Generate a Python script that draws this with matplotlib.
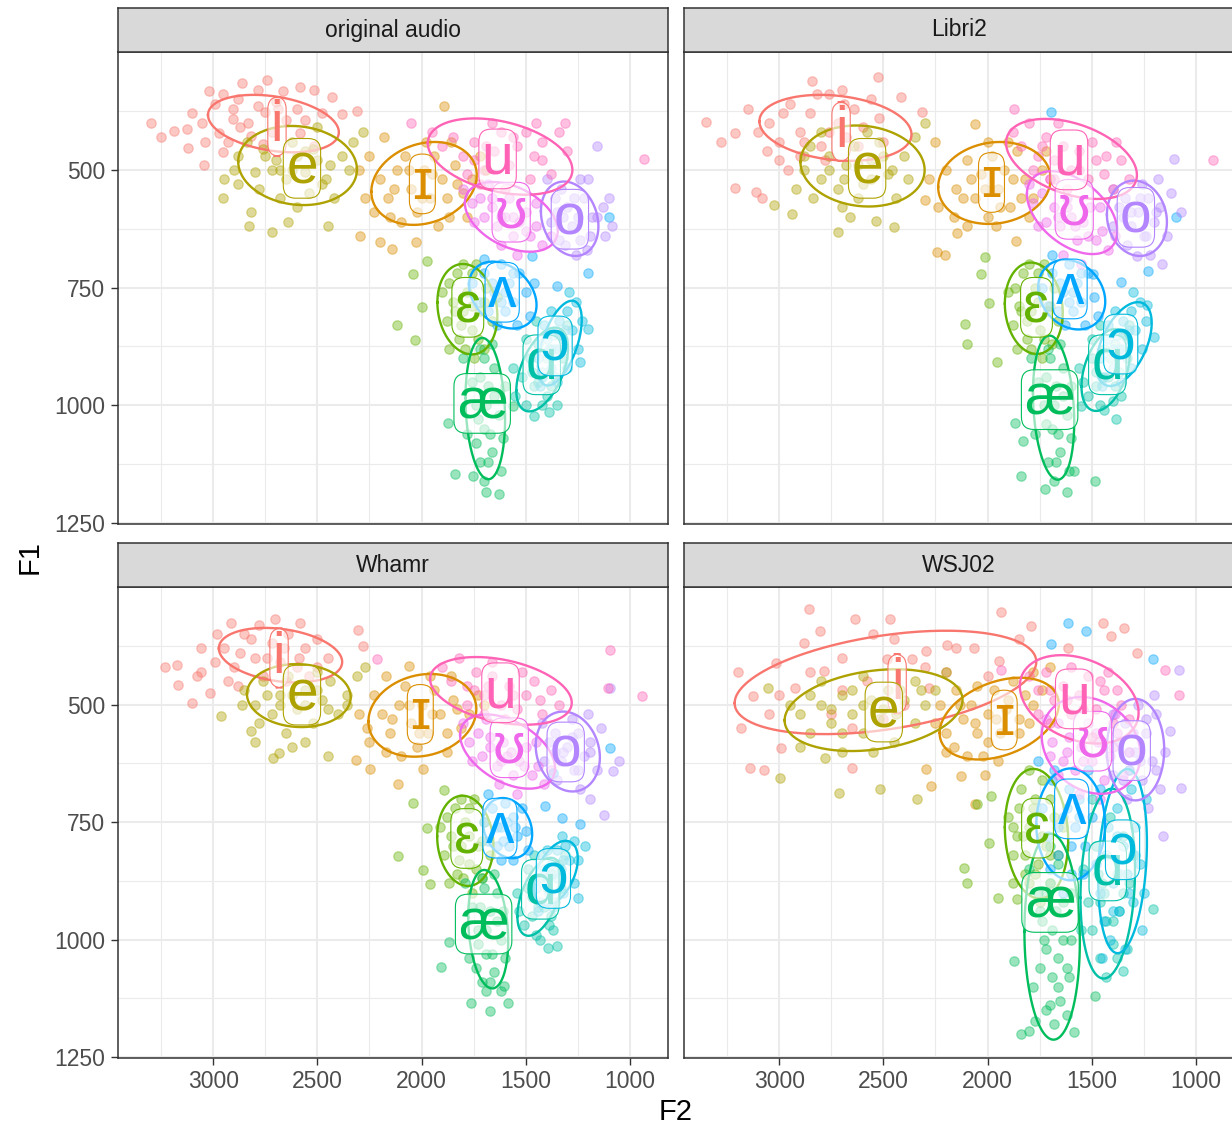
import numpy as np
import matplotlib
matplotlib.use("Agg")
import matplotlib.pyplot as plt

plt.rcParams['font.family'] = ['Liberation Sans', 'DejaVu Sans']

# ---------------- data ----------------
panels = ["original audio", "Libri2", "Whamr", "WSJ02"]
vowels = ['i', 'ɪ', 'e', 'ɛ', 'æ', 'ɑ', 'ɔ', 'ʌ', 'o', 'ʊ', 'u']
vowel_colors = ["#F8766D", "#DB8E00", "#AEA200", "#64B200", "#00BD5C", "#00C1A7",
                "#00BADE", "#00A6FF", "#B385FF", "#EF67EB", "#FF63B6"]
f2_ticks = [3000, 2500, 2000, 1500, 1000]
f1_ticks = [500, 750, 1000, 1250]

# ellipses: (F2 centre, F1 centre, half width F2, half height F1, correlation)
ell_orig = {
    'i': (2711, 402, 314, 61, -0.3), 'e': (2595, 491, 285, 84, -0.1),
    'ɪ': (1988, 529, 253, 88, 0.2), 'u': (1623, 472, 347, 81, -0.35),
    'ʊ': (1569, 600, 223, 74, -0.4), 'o': (1289, 604, 138, 79, -0.2),
    'ɛ': (1780, 796, 144, 96, -0.15), 'ʌ': (1610, 766, 162, 71, -0.3),
    'æ': (1694, 1007, 95, 150, -0.15), 'ɑ': (1421, 924, 124, 89, 0.5),
    'ɔ': (1336, 868, 105, 90, 0.55)}
ell_libri = {
    'i': (2730, 411, 365, 70, -0.2), 'e': (2600, 492, 298, 86, -0.1),
    'ɪ': (1967, 528, 270, 87, 0.1), 'u': (1597, 477, 314, 85, -0.4),
    'ʊ': (1594, 591, 217, 88, -0.45), 'o': (1283, 603, 144, 80, -0.1),
    'ɛ': (1778, 794, 139, 97, -0.1), 'ʌ': (1596, 765, 161, 74, -0.2),
    'æ': (1683, 1005, 99, 153, -0.2), 'ɑ': (1433, 925, 116, 87, 0.4),
    'ɔ': (1345, 870, 133, 89, 0.5)}
ell_whamr = {
    'i': (2677, 395, 296, 58, -0.25), 'e': (2589, 481, 249, 67, -0.05),
    'ɪ': (1996, 523, 259, 88, 0.15), 'u': (1619, 471, 340, 72, -0.35),
    'ʊ': (1587, 600, 228, 79, -0.45), 'o': (1298, 600, 154, 85, -0.15),
    'ɛ': (1790, 790, 135, 96, -0.1), 'ʌ': (1587, 763, 118, 64, -0.2),
    'æ': (1680, 978, 96, 126, -0.2), 'ɑ': (1433, 909, 107, 83, 0.5),
    'ɔ': (1356, 859, 106, 69, 0.45)}
ell_wsj = {
    'i': (2490, 453, 724, 110, 0.4), 'e': (2547, 512, 427, 87, 0.25),
    'ɪ': (1944, 530, 286, 87, 0.35), 'u': (1560, 489, 285, 94, -0.3),
    'ʊ': (1503, 587, 237, 103, -0.2), 'o': (1290, 596, 138, 108, 0.0),
    'ɛ': (1765, 775, 152, 138, -0.1), 'ʌ': (1601, 755, 165, 119, 0.0),
    'æ': (1690, 994, 133, 219, -0.05), 'ɑ': (1423, 881, 131, 202, 0.15),
    'ɔ': (1352, 833, 117, 196, 0.2)}

# label positions (F2, F1)
lab_orig = {'i': (2694, 408), 'e': (2574, 497), 'ɪ': (1996, 530), 'u': (1635, 477),
            'ʊ': (1570, 590), 'o': (1288, 605), 'ɛ': (1778, 792), 'ʌ': (1613, 760),
            'æ': (1709, 996), 'ɑ': (1423, 914), 'ɔ': (1359, 874)}
lab_libri = {'i': (2703, 419), 'e': (2578, 497), 'ɪ': (1981, 527), 'u': (1609, 479),
             'ʊ': (1584, 584), 'o': (1288, 601), 'ɛ': (1765, 792), 'ʌ': (1604, 753),
             'æ': (1702, 988), 'ɑ': (1425, 914), 'ɔ': (1361, 870)}
lab_whamr = {'i': (2684, 401), 'e': (2574, 480), 'ɪ': (2006, 521), 'u': (1621, 475),
             'ʊ': (1579, 592), 'o': (1308, 601), 'ɛ': (1783, 785), 'ʌ': (1624, 763),
             'æ': (1702, 967), 'ɑ': (1430, 893), 'ɔ': (1367, 870)}
lab_wsj = {'i': (2434, 456), 'e': (2498, 516), 'ɪ': (1920, 533), 'u': (1584, 488),
           'ʊ': (1496, 578), 'o': (1308, 598), 'ɛ': (1760, 763), 'ʌ': (1596, 722),
           'æ': (1700, 921), 'ɑ': (1423, 854), 'ɔ': (1352, 809)}

# tokens (F2, F1)
pts_orig = {
    'i': [(3300, 400), (3190, 417), (3120, 453), (3045, 490), (3020, 332), (2955, 340), (2860, 315),
          (2785, 330), (2665, 332), (2585, 325), (2515, 330), (2430, 346), (2380, 382), (2310, 375),
          (2905, 392), (2835, 400), (2750, 378), (2970, 421), (3040, 442), (3055, 400), (2820, 428),
          (2905, 371), (2700, 357), (2585, 421), (2515, 449), (3125, 414), (2955, 463), (2785, 364),
          (2650, 395), (2720, 420), (2880, 350), (2600, 370), (3250, 430), (3100, 380), (2990, 360),
          (2870, 410), (2760, 445), (2690, 370), (2560, 395), (2480, 380), (2740, 310), (2930, 440)],
    'e': [(2720, 633), (2830, 619), (2955, 559), (2450, 619), (2950, 520), (2880, 470), (2800, 505),
          (2760, 455), (2700, 480), (2650, 520), (2600, 470), (2560, 505), (2520, 455), (2480, 530),
          (2440, 490), (2380, 470), (2330, 440), (2280, 420), (2680, 560), (2600, 580), (2540, 550),
          (2780, 540), (2840, 440), (2620, 440), (2500, 410), (2420, 560), (2720, 500), (2900, 500),
          (2750, 470), (2680, 500), (2620, 500), (2560, 460), (2500, 480), (2460, 520), (2350, 500),
          (2640, 610), (2820, 590), (2880, 530)],
    'ɪ': [(2295, 640), (2200, 654), (2140, 668), (2025, 654), (1890, 364), (2250, 470), (2200, 520),
          (2160, 560), (2120, 500), (2080, 470), (2050, 540), (2020, 590), (1990, 500), (1960, 560),
          (1940, 470), (1900, 520), (1870, 600), (1840, 490), (1800, 550), (1760, 520), (1720, 470),
          (2230, 590), (2100, 610), (1980, 440), (1860, 440), (2180, 430), (1780, 600), (1920, 620),
          (2300, 500), (2270, 560), (2130, 540), (2060, 500), (2000, 560), (1950, 510), (1880, 560),
          (1830, 530), (2150, 600), (1690, 500)],
    'u': [(933, 477), (2050, 400), (1950, 420), (1900, 450), (1850, 430), (1800, 470), (1750, 440),
          (1700, 500), (1650, 460), (1620, 420), (1580, 490), (1540, 450), (1500, 420), (1460, 470),
          (1420, 440), (1380, 510), (1340, 420), (1300, 460), (1720, 530), (1600, 540), (1480, 520),
          (1660, 400), (1780, 510), (1310, 400), (1450, 401), (1750, 480), (1690, 450), (1560, 430),
          (1420, 480)],
    'ʊ': [(1800, 540), (1760, 570), (1720, 560), (1700, 600), (1660, 580), (1640, 620), (1600, 600),
          (1580, 560), (1560, 640), (1530, 610), (1500, 590), (1480, 640), (1450, 620), (1420, 660),
          (1380, 640), (1620, 660), (1540, 680), (1680, 530), (1750, 610), (1450, 570), (1660, 560),
          (1560, 600), (1500, 630), (1620, 600)],
    'o': [(1085, 620), (1160, 450), (1205, 670), (1400, 520), (1360, 560), (1330, 540), (1300, 580),
          (1280, 620), (1250, 600), (1220, 560), (1190, 640), (1160, 600), (1130, 580), (1120, 640),
          (1340, 650), (1260, 680), (1200, 520), (1380, 610), (1240, 520), (1310, 660), (1100, 560),
          (1320, 600), (1270, 560), (1240, 650), (1180, 600), (1350, 590)],
    'ɛ': [(2118, 830), (2030, 861), (2040, 722), (2000, 792), (1975, 693), (1900, 760), (1880, 820),
          (1850, 780), (1830, 720), (1820, 860), (1800, 800), (1780, 760), (1760, 840), (1740, 700),
          (1720, 800), (1700, 880), (1690, 750), (1660, 820), (1870, 880), (1800, 700), (1640, 770),
          (1750, 900), (1870, 740), (1810, 830), (1760, 790), (1730, 860), (1790, 880), (1840, 800),
          (1700, 780), (1760, 720)],
    'ʌ': [(1100, 600), (1200, 720), (1350, 746), (1470, 683), (1760, 740), (1720, 780), (1700, 720),
          (1680, 800), (1650, 760), (1620, 700), (1600, 800), (1580, 740), (1560, 780), (1530, 720),
          (1500, 760), (1480, 810), (1460, 740), (1640, 830), (1540, 830), (1700, 690), (1660, 740),
          (1600, 760), (1560, 720), (1620, 780)],
    'æ': [(1875, 1037), (1840, 1146), (1755, 1150), (1690, 1185), (1630, 1189), (1560, 1001),
          (1800, 900), (1760, 950), (1740, 1000), (1720, 880), (1700, 1050), (1680, 960), (1660, 1100),
          (1650, 920), (1630, 1020), (1610, 1070), (1720, 1120), (1780, 1060), (1600, 960), (1700, 1160),
          (1660, 870), (1740, 1080), (1720, 940), (1690, 1000), (1670, 1060), (1700, 900), (1650, 980),
          (1730, 1030), (1680, 1120), (1620, 1140)],
    'ɑ': [(1460, 1022), (1390, 1015), (1550, 980), (1520, 940), (1500, 1000), (1480, 900), (1460, 960),
          (1440, 870), (1420, 930), (1400, 980), (1380, 880), (1360, 940), (1340, 850), (1320, 900),
          (1300, 830), (1500, 860), (1420, 1000), (1560, 920), (1350, 1000), (1450, 820), (1440, 950),
          (1400, 900), (1470, 930), (1380, 960)],
    'ɔ': [(1200, 838), (1240, 909), (1440, 900), (1420, 940), (1400, 860), (1380, 920), (1360, 880),
          (1340, 820), (1320, 860), (1300, 800), (1280, 840), (1260, 780), (1250, 880), (1300, 920),
          (1380, 800), (1430, 960), (1350, 950), (1230, 820), (1290, 760), (1410, 830), (1340, 880),
          (1370, 850), (1310, 840), (1390, 880)]}

pts_libri = {
    'i': [(3350, 399), (3210, 421), (3210, 538), (3110, 548), (3085, 559), (2525, 304), (2845, 311),
          (2415, 346), (2315, 377), (3150, 370), (3050, 400), (3000, 440), (2950, 360), (2900, 420),
          (2850, 380), (2800, 450), (2760, 340), (2720, 400), (2680, 430), (2640, 370), (2600, 410),
          (2560, 350), (2500, 440), (3000, 480), (2900, 470), (2780, 480), (2700, 330), (3060, 460),
          (3280, 440), (3100, 420), (2980, 380), (2880, 440), (2760, 420), (2690, 360), (2620, 450),
          (2520, 390), (2820, 340), (2960, 500)],
    'e': [(3025, 575), (2720, 633), (2535, 608), (2450, 622), (2940, 593), (2880, 500), (2850, 450),
          (2800, 520), (2760, 470), (2720, 540), (2680, 490), (2640, 450), (2600, 530), (2560, 480),
          (2520, 440), (2480, 510), (2440, 560), (2400, 470), (2350, 430), (2300, 400), (2700, 580),
          (2620, 560), (2800, 420), (2580, 420), (2920, 540), (2760, 500), (2690, 520), (2620, 490),
          (2560, 520), (2500, 470), (2460, 500), (2380, 520), (2660, 600), (2840, 560), (2880, 470)],
    'ɪ': [(2245, 674), (2205, 681), (2145, 635), (2300, 564), (2060, 403), (1865, 651), (2200, 500),
          (2150, 540), (2100, 480), (2060, 560), (2030, 510), (2000, 600), (1980, 470), (1950, 540),
          (1920, 500), (1890, 580), (1860, 460), (1820, 520), (1780, 560), (1740, 500), (2250, 440),
          (2100, 620), (1900, 440), (1960, 620), (2000, 440), (1800, 600), (2280, 520), (2240, 580),
          (2120, 560), (2080, 520), (2010, 540), (1940, 580), (1880, 520), (1840, 560), (2160, 600),
          (1720, 460)],
    'u': [(920, 479), (1875, 371), (1385, 442), (1880, 420), (1840, 450), (1800, 400), (1760, 470),
          (1720, 430), (1680, 480), (1640, 450), (1600, 500), (1560, 460), (1520, 520), (1480, 480),
          (1440, 510), (1400, 540), (1360, 480), (1320, 520), (1700, 520), (1620, 540), (1780, 500),
          (1500, 440), (1660, 400), (1740, 450), (1680, 520), (1560, 500), (1430, 470)],
    'ʊ': [(1800, 530), (1780, 570), (1740, 550), (1720, 610), (1680, 580), (1650, 620), (1620, 560),
          (1600, 600), (1570, 650), (1540, 610), (1510, 580), (1480, 650), (1450, 630), (1420, 670),
          (1390, 640), (1640, 680), (1550, 700), (1700, 520), (1760, 620), (1460, 580), (1660, 600),
          (1580, 620), (1520, 640), (1620, 580)],
    'o': [(1072, 590), (1106, 477), (1165, 700), (1283, 683), (1400, 540), (1370, 580), (1340, 560),
          (1310, 620), (1280, 590), (1250, 640), (1230, 560), (1200, 610), (1170, 580), (1140, 640),
          (1120, 550), (1330, 660), (1260, 530), (1400, 620), (1220, 680), (1180, 520), (1310, 590),
          (1270, 560), (1240, 640), (1190, 590), (1350, 600)],
    'ɛ': [(2110, 828), (2100, 870), (2030, 722), (1995, 782), (2010, 686), (1955, 909), (1900, 760),
          (1880, 830), (1850, 790), (1830, 720), (1810, 860), (1790, 800), (1770, 750), (1750, 840),
          (1730, 700), (1710, 800), (1690, 870), (1680, 750), (1660, 820), (1860, 880), (1800, 700),
          (1740, 900), (1870, 750), (1810, 820), (1760, 780), (1730, 860), (1790, 880), (1840, 800),
          (1700, 790), (1760, 720)],
    'ʌ': [(1697, 378), (1232, 715), (1360, 739), (1097, 600), (1494, 722), (1740, 750), (1710, 790),
          (1690, 720), (1660, 800), (1640, 760), (1610, 700), (1590, 800), (1570, 740), (1550, 780),
          (1520, 720), (1490, 770), (1470, 810), (1630, 830), (1530, 830), (1690, 680), (1650, 740),
          (1590, 760), (1550, 720), (1610, 780)],
    'æ': [(1866, 1037), (1832, 1076), (1841, 1150), (1722, 1178), (1621, 1185), (1486, 1160),
          (1587, 1139), (1790, 900), (1760, 950), (1730, 1000), (1710, 880), (1690, 1050), (1670, 960),
          (1650, 1100), (1640, 920), (1620, 1020), (1600, 1070), (1710, 1120), (1770, 1060),
          (1600, 960), (1680, 1160), (1650, 870), (1720, 940), (1680, 1000), (1660, 1060), (1700, 900),
          (1640, 980), (1720, 1040), (1670, 1120), (1610, 1140)],
    'ɑ': [(1384, 1030), (1553, 1001), (1540, 950), (1520, 980), (1500, 900), (1480, 960), (1460, 1000),
          (1440, 880), (1420, 940), (1400, 990), (1390, 870), (1370, 930), (1350, 850), (1330, 900),
          (1320, 830), (1500, 860), (1440, 1010), (1560, 920), (1360, 980), (1460, 830), (1450, 940),
          (1410, 900), (1480, 930), (1390, 960)],
    'ɔ': [(1233, 788), (1199, 856), (1460, 900), (1440, 940), (1420, 860), (1400, 920), (1370, 880),
          (1350, 820), (1330, 860), (1310, 800), (1290, 840), (1270, 780), (1260, 880), (1310, 920),
          (1390, 800), (1450, 960), (1360, 950), (1240, 820), (1300, 760), (1420, 830), (1350, 880),
          (1380, 850), (1320, 840), (1400, 880)]}

pts_whamr = {
    'i': [(3176, 415), (3167, 458), (3100, 496), (3058, 380), (3015, 475), (2914, 327), (2703, 319),
          (2584, 327), (2306, 341), (2280, 376), (2950, 380), (2900, 420), (2850, 350), (2800, 400),
          (2760, 440), (2720, 370), (2680, 410), (2640, 350), (2600, 420), (2560, 380), (2500, 360),
          (2450, 400), (3060, 430), (2880, 460), (2780, 330), (2650, 450), (2540, 440), (2980, 350),
          (3230, 420), (3080, 440), (2990, 410), (2870, 390), (2740, 400), (2660, 380), (2590, 400),
          (2500, 420), (2820, 360), (2930, 450)],
    'e': [(2964, 525), (2820, 557), (2711, 613), (2449, 610), (2686, 603), (2850, 470), (2800, 500),
          (2760, 450), (2720, 520), (2680, 480), (2640, 440), (2600, 510), (2560, 470), (2520, 540),
          (2480, 490), (2440, 450), (2400, 520), (2360, 480), (2310, 440), (2270, 420), (2650, 560),
          (2560, 580), (2780, 540), (2500, 430), (2740, 480), (2680, 500), (2620, 480), (2560, 500),
          (2500, 470), (2450, 510), (2360, 500), (2620, 590), (2800, 580), (2860, 500)],
    'ɪ': [(2313, 617), (2246, 638), (2111, 670), (2060, 419), (1992, 638), (2230, 480), (2190, 520),
          (2150, 560), (2110, 500), (2080, 460), (2050, 540), (2020, 590), (2000, 500), (1970, 560),
          (1940, 470), (1910, 520), (1880, 600), (1850, 490), (1810, 550), (1770, 520), (1730, 480),
          (2250, 580), (2100, 610), (1960, 440), (1860, 440), (2170, 440), (2300, 520), (2260, 550),
          (2140, 530), (2060, 500), (2010, 560), (1950, 520), (1880, 560), (1830, 510), (2170, 600),
          (1700, 500)],
    'u': [(943, 482), (1097, 383), (1106, 465), (2212, 404), (1900, 420), (1860, 450), (1820, 400),
          (1780, 460), (1740, 430), (1700, 480), (1660, 440), (1620, 500), (1580, 460), (1540, 510),
          (1500, 480), (1460, 450), (1420, 520), (1380, 470), (1340, 500), (1700, 520), (1600, 530),
          (1780, 500), (1520, 430), (1660, 410), (1750, 470), (1680, 460), (1560, 480), (1430, 490)],
    'ʊ': [(1800, 540), (1770, 580), (1730, 560), (1710, 610), (1670, 590), (1640, 630), (1610, 580),
          (1590, 610), (1560, 650), (1530, 620), (1500, 590), (1470, 650), (1440, 630), (1410, 670),
          (1380, 640), (1630, 670), (1540, 690), (1690, 530), (1760, 620), (1450, 580), (1670, 570),
          (1570, 600), (1510, 630), (1620, 620)],
    'o': [(1054, 620), (1079, 642), (1190, 702), (1125, 734), (1097, 465), (1420, 540), (1390, 580),
          (1360, 560), (1330, 620), (1300, 590), (1270, 640), (1250, 560), (1220, 610), (1190, 580),
          (1160, 640), (1140, 550), (1350, 660), (1280, 530), (1410, 620), (1240, 680), (1200, 520),
          (1320, 600), (1280, 570), (1250, 640), (1190, 600), (1360, 600)],
    'ɛ': [(2111, 822), (1975, 762), (1992, 853), (2042, 709), (1958, 882), (1890, 681), (1910, 760),
          (1890, 820), (1860, 780), (1840, 720), (1830, 860), (1810, 800), (1790, 750), (1770, 840),
          (1750, 700), (1730, 800), (1710, 870), (1700, 750), (1670, 820), (1870, 880), (1810, 700),
          (1760, 900), (1880, 740), (1820, 830), (1770, 780), (1740, 850), (1800, 870), (1850, 800),
          (1710, 790), (1770, 720)],
    'ʌ': [(1409, 716), (1325, 741), (1240, 755), (1097, 592), (1367, 645), (1700, 750), (1680, 790),
          (1660, 720), (1640, 800), (1620, 760), (1600, 710), (1580, 800), (1560, 740), (1540, 780),
          (1520, 720), (1500, 770), (1490, 810), (1620, 830), (1560, 830), (1680, 690), (1640, 760),
          (1590, 750), (1550, 760), (1610, 790)],
    'æ': [(1907, 1059), (1866, 1006), (1765, 1134), (1672, 1151), (1587, 1134), (1604, 1098),
          (1790, 880), (1760, 930), (1730, 980), (1710, 870), (1690, 1030), (1670, 940), (1650, 1070),
          (1640, 900), (1620, 1000), (1600, 1040), (1710, 1090), (1770, 1040), (1610, 940),
          (1690, 1110), (1650, 860), (1740, 1060), (1720, 930), (1690, 980), (1660, 1030), (1700, 890),
          (1640, 960), (1730, 1010), (1670, 1090), (1620, 1110)],
    'ɑ': [(1393, 1017), (1351, 1014), (1530, 940), (1510, 970), (1490, 890), (1470, 950), (1450, 990),
          (1430, 870), (1410, 930), (1390, 970), (1380, 860), (1360, 920), (1340, 840), (1330, 890),
          (1310, 820), (1490, 850), (1430, 1000), (1540, 900), (1370, 980), (1460, 820), (1440, 930),
          (1400, 890), (1470, 910), (1380, 950)],
    'ɔ': [(1216, 800), (1250, 911), (1325, 779), (1450, 890), (1430, 920), (1410, 850), (1390, 900),
          (1370, 860), (1350, 810), (1330, 850), (1310, 800), (1290, 830), (1270, 790), (1270, 880),
          (1320, 900), (1400, 810), (1440, 940), (1370, 930), (1250, 830), (1420, 820), (1350, 870),
          (1380, 840), (1320, 830), (1400, 870)]}

pts_wsj = {
    'i': [(2855, 296), (2635, 319), (2804, 344), (2466, 319), (2880, 369), (3015, 411), (3125, 482),
          (3184, 550), (3142, 635), (3074, 640), (2652, 635), (1936, 303), (1792, 334), (1446, 327),
          (1345, 337), (1284, 390), (1409, 355), (1615, 380), (2063, 380), (2196, 373), (2297, 387),
          (2483, 404), (2550, 351), (2787, 429), (2922, 465), (2365, 404), (2280, 465), (1944, 408),
          (2652, 550), (2990, 592), (2700, 470), (2400, 500), (3050, 520), (2200, 430), (3200, 430),
          (3000, 480), (2850, 430), (2700, 400), (2580, 450), (2450, 360), (2300, 420), (2150, 380),
          (2000, 440), (1850, 360), (2750, 520), (2500, 530)],
    'e': [(2996, 656), (2713, 688), (2518, 680), (2341, 702), (2780, 613), (3056, 465), (2900, 520),
          (2850, 560), (2800, 500), (2750, 540), (2700, 480), (2650, 520), (2600, 560), (2560, 490),
          (2520, 530), (2480, 470), (2440, 520), (2400, 490), (2350, 450), (2300, 500), (2250, 470),
          (2200, 430), (2700, 600), (2600, 440), (2450, 580), (2900, 590), (2350, 540), (2800, 450),
          (2950, 500), (2850, 480), (2750, 510), (2650, 470), (2600, 500), (2500, 510), (2420, 470),
          (2320, 470), (2700, 560), (2550, 600)],
    'ɪ': [(2297, 638), (2272, 673), (2128, 652), (2060, 712), (2010, 649), (2200, 560), (2160, 590),
          (2120, 530), (2080, 500), (2050, 560), (2020, 610), (2000, 520), (1970, 470), (1940, 560),
          (1910, 510), (1880, 450), (1850, 530), (1820, 480), (1780, 430), (1740, 470), (1700, 420),
          (2230, 500), (2100, 610), (1950, 620), (1800, 540), (2150, 470), (2250, 540), (2200, 600),
          (2130, 500), (2060, 540), (2000, 580), (1960, 530), (1900, 490), (1850, 560), (1780, 500),
          (2050, 460)],
    'u': [(1148, 426), (1080, 479), (1936, 426), (1800, 440), (1760, 470), (1720, 430), (1680, 490),
          (1640, 460), (1600, 520), (1560, 480), (1520, 440), (1480, 510), (1440, 470), (1400, 540),
          (1360, 500), (1320, 530), (1700, 540), (1600, 420), (1500, 570), (1760, 520), (1420, 430),
          (1700, 470), (1620, 490), (1540, 510), (1460, 450), (1380, 470)],
    'ʊ': [(1720, 530), (1690, 580), (1660, 540), (1640, 620), (1610, 570), (1580, 640), (1550, 590),
          (1520, 540), (1500, 620), (1470, 580), (1440, 660), (1410, 610), (1380, 560), (1350, 650),
          (1320, 600), (1560, 690), (1460, 700), (1660, 650), (1700, 610), (1390, 520), (1620, 600),
          (1540, 620), (1480, 560), (1400, 590)],
    'o': [(1072, 677), (1123, 557), (1080, 426), (1157, 780), (1400, 520), (1370, 580), (1340, 540),
          (1320, 640), (1290, 600), (1260, 660), (1240, 560), (1210, 620), (1190, 520), (1170, 680),
          (1150, 600), (1330, 700), (1280, 500), (1400, 650), (1230, 720), (1200, 480), (1300, 560),
          (1320, 600), (1270, 620), (1240, 530), (1190, 640), (1350, 660)],
    'ɛ': [(2111, 847), (2098, 879), (1993, 794), (1951, 911), (2052, 712), (1985, 695), (1858, 914),
          (1900, 740), (1880, 820), (1860, 780), (1840, 680), (1820, 860), (1800, 760), (1780, 720),
          (1760, 840), (1740, 660), (1720, 800), (1700, 880), (1680, 740), (1660, 820), (1880, 880),
          (1800, 640), (1640, 760), (1750, 920), (1880, 760), (1820, 820), (1770, 700), (1740, 780),
          (1800, 880), (1850, 720), (1700, 820), (1770, 860), (1830, 780), (1700, 700)],
    'ʌ': [(1613, 327), (1529, 344), (1697, 372), (1207, 404), (1758, 620), (1740, 720), (1710, 780),
          (1690, 660), (1660, 820), (1640, 740), (1610, 680), (1600, 860), (1580, 760), (1560, 700),
          (1530, 800), (1500, 740), (1480, 840), (1460, 680), (1640, 900), (1520, 640), (1700, 850),
          (1660, 760), (1600, 800), (1560, 740), (1620, 720), (1540, 860), (1680, 640)],
    'æ': [(1875, 1045), (1486, 1120), (1841, 1201), (1799, 1194), (1587, 1197), (1774, 1173),
          (1800, 850), (1760, 900), (1740, 960), (1720, 1020), (1700, 880), (1690, 1080), (1670, 940),
          (1650, 1130), (1640, 1000), (1620, 1060), (1600, 900), (1720, 1150), (1780, 1100),
          (1620, 1160), (1700, 800), (1660, 1040), (1750, 1060), (1600, 1000), (1720, 900), (1690, 980),
          (1660, 1100), (1700, 1140), (1640, 920), (1730, 1000), (1680, 1180), (1610, 1080),
          (1750, 940), (1660, 840)],
    'ɑ': [(1351, 1066), (1206, 935), (1540, 850), (1520, 920), (1500, 980), (1480, 800), (1460, 1040),
          (1450, 880), (1430, 960), (1410, 740), (1400, 1010), (1380, 860), (1370, 940), (1350, 780),
          (1330, 1020), (1320, 880), (1500, 700), (1430, 1080), (1550, 980), (1300, 820), (1460, 920),
          (1440, 900), (1400, 960), (1470, 860), (1380, 1040), (1350, 900)],
    'ɔ': [(1460, 900), (1440, 960), (1430, 820), (1410, 1000), (1400, 880), (1380, 720), (1370, 940),
          (1350, 800), (1340, 1020), (1330, 860), (1310, 680), (1300, 920), (1290, 760), (1270, 840),
          (1260, 980), (1240, 700), (1420, 760), (1320, 640), (1450, 1040), (1250, 900), (1360, 860),
          (1380, 780), (1320, 900), (1400, 940), (1290, 820)]}

panel_ell = [ell_orig, ell_libri, ell_whamr, ell_wsj]
panel_lab = [lab_orig, lab_libri, lab_whamr, lab_wsj]
panel_pts = [pts_orig, pts_libri, pts_whamr, pts_wsj]


def ellipse_xy(cx, cy, hw, hh, rho):
    t = np.linspace(0, 2 * np.pi, 240)
    x = cx + hw * np.cos(t)
    y = cy + hh * (rho * np.cos(t) + np.sqrt(1 - rho ** 2) * np.sin(t))
    return x, y


# ---------------- figure ----------------
W, H = 1232, 1130
fig = plt.figure(figsize=(W / 100, H / 100), dpi=100)
fig.patch.set_facecolor('white')

# panel boxes in pixels: left, top, width, height
boxes = [(118, 52, 550, 472), (684, 52, 550, 472), (118, 587, 550, 471), (684, 587, 550, 471)]

for k, (name, box) in enumerate(zip(panels, boxes)):
    lx, ty, bw, bh = box
    ax = fig.add_axes([lx / W, 1 - (ty + bh) / H, bw / W, bh / H])
    sx = fig.add_axes([lx / W, 1 - ty / H, bw / W, 44 / H])

    # strip
    sx.set_facecolor('#D9D9D9')
    sx.set_xticks([])
    sx.set_yticks([])
    for s in sx.spines.values():
        s.set_color('#333333')
        s.set_linewidth(1.1)
    sx.text(0.5, 0.5, name, ha='center', va='center', fontsize=16.5, color='#1A1A1A',
            transform=sx.transAxes)

    # grid
    ax.set_xlim(3457, 817)
    ax.set_ylim(1252, 250)
    ax.set_xticks(f2_ticks)
    ax.set_yticks(f1_ticks)
    ax.set_xticks([3250, 2750, 2250, 1750, 1250], minor=True)
    ax.set_yticks([375, 625, 875, 1125], minor=True)
    ax.grid(True, which='major', color='#EBEBEB', linewidth=1.5)
    ax.grid(True, which='minor', color='#EBEBEB', linewidth=0.8)
    ax.set_axisbelow(True)
    for s in ax.spines.values():
        s.set_color('#333333')
        s.set_linewidth(1.1)
    ax.tick_params(which='minor', length=0)
    ax.tick_params(which='major', length=5, width=1.0, color='#333333',
                   labelsize=16.5, labelcolor='#4D4D4D', pad=4)
    if k in (0, 2):
        ax.tick_params(axis='y', left=True, labelleft=True)
    else:
        ax.tick_params(axis='y', left=False, labelleft=False)
    if k in (2, 3):
        ax.tick_params(axis='x', bottom=True, labelbottom=True)
    else:
        ax.tick_params(axis='x', bottom=False, labelbottom=False)

    ells = panel_ell[k]
    labs = panel_lab[k]
    pts = panel_pts[k]

    for v, c in zip(vowels, vowel_colors):
        p = np.array(pts[v])
        ax.scatter(p[:, 0], p[:, 1], s=46, facecolor=c, edgecolor=c, alpha=0.4,
                   linewidths=0.9, zorder=2)

    for v, c in zip(vowels, vowel_colors):
        ex, ey = ellipse_xy(*ells[v])
        ax.plot(ex, ey, color=c, linewidth=1.7, zorder=3)

    for v, c in zip(vowels, vowel_colors):
        x, y = labs[v]
        ax.text(x, y, v, color=c, fontsize=41, ha='center', va='center', zorder=4,
                bbox=dict(boxstyle='round,pad=0.05,rounding_size=0.22',
                          fc=(1, 1, 1, 0.6), ec=c, lw=0.8))

fig.text(676 / W, 1 - 1112 / H, 'F2', ha='center', va='center', fontsize=21, color='black')
fig.text(30 / W, 1 - 557 / H, 'F1', ha='center', va='center', fontsize=21, color='black',
         rotation=90)

fig.savefig('out.png', dpi=100)
